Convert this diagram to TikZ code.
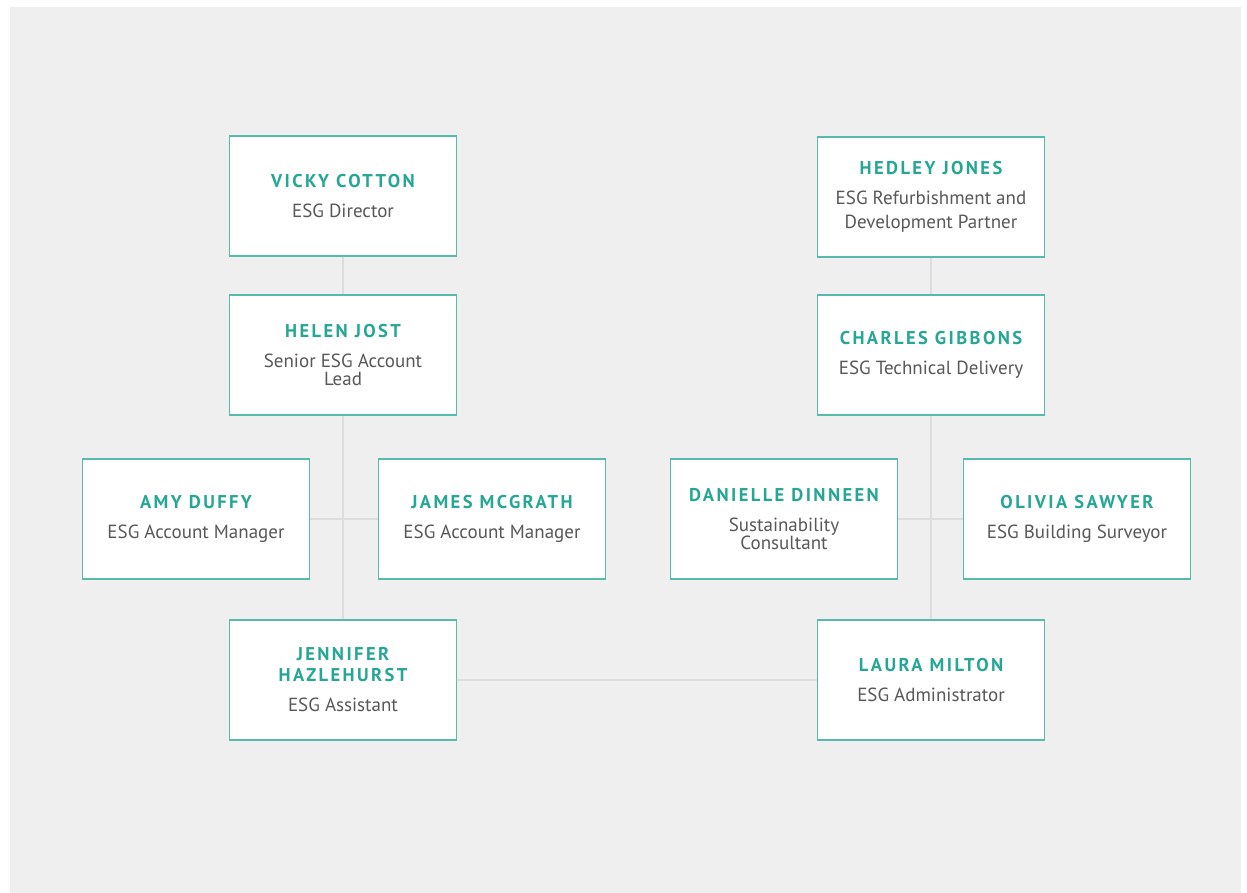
\documentclass[tikz,border=0pt]{standalone}
\usepackage{fontspec}
\setmainfont{PT Sans}
\newfontfamily\namefont[LetterSpace=13.0]{PT Sans}
\definecolor{teal}{RGB}{38,166,148}
\definecolor{cardline}{RGB}{86,187,172}
\definecolor{titlegray}{RGB}{88,88,88}
\definecolor{linkgray}{RGB}{221,221,221}
\definecolor{bggray}{RGB}{239,239,239}
\newcommand{\nm}[1]{{\fontsize{18.5}{18}\selectfont\namefont\bfseries\color{teal}#1}}
\newcommand{\tl}[1]{{\color{titlegray}#1}}
\tikzset{
  card/.style={draw=cardline, line width=1.3pt, fill=white,
    minimum width=227pt, minimum height=120pt, align=center,
    inner sep=0pt, font=\fontsize{19}{18}\selectfont},
  link/.style={draw=linkgray, line width=1.4pt}
}
\begin{document}
\begin{tikzpicture}[x=1pt,y=-1pt]
      \useasboundingbox (0,0) rectangle (1247,893);
      \fill[bggray] (10,7) rectangle (1241,893);
      % left team
      \node[card] (vicky) at (343,196) {\nm{VICKY COTTON}\\[12pt]\tl{ESG Director}};
      \node[card] (helen) at (343,355) {\nm{HELEN JOST}\\[12pt]\tl{Senior ESG Account}\\\tl{Lead}};
      \node[card] (amy) at (196,519) {\nm{AMY DUFFY}\\[12pt]\tl{ESG Account Manager}};
      \node[card] (james) at (492,519) {\nm{JAMES MCGRATH}\\[12pt]\tl{ESG Account Manager}};
      \node[card] (jennifer) at (343,680) {\nm{JENNIFER}\\[3pt]\nm{HAZLEHURST}\\[12pt]\tl{ESG Assistant}};
      % right team
      \node[card] (hedley) at (931,197) {\nm{HEDLEY JONES}\\[12pt]\tl{ESG Refurbishment and}\\[6pt]\tl{Development Partner}};
      \node[card] (charles) at (931,355) {\nm{CHARLES GIBBONS}\\[12pt]\tl{ESG Technical Delivery}};
      \node[card] (danielle) at (784,519) {\nm{DANIELLE DINNEEN}\\[12pt]\tl{Sustainability}\\\tl{Consultant}};
      \node[card] (olivia) at (1077,519) {\nm{OLIVIA SAWYER}\\[12pt]\tl{ESG Building Surveyor}};
      \node[card] (laura) at (931,680) {\nm{LAURA MILTON}\\[12pt]\tl{ESG Administrator}};
      \begin{scope}[link]
        \draw (vicky) to (helen);
        \draw (helen) to (jennifer);
        \draw (amy) to (james);
        \draw (hedley) to (charles);
        \draw (charles) to (laura);
        \draw (danielle) to (olivia);
        \draw (jennifer) to (laura);
      \end{scope}
    \end{tikzpicture}
\end{document}
